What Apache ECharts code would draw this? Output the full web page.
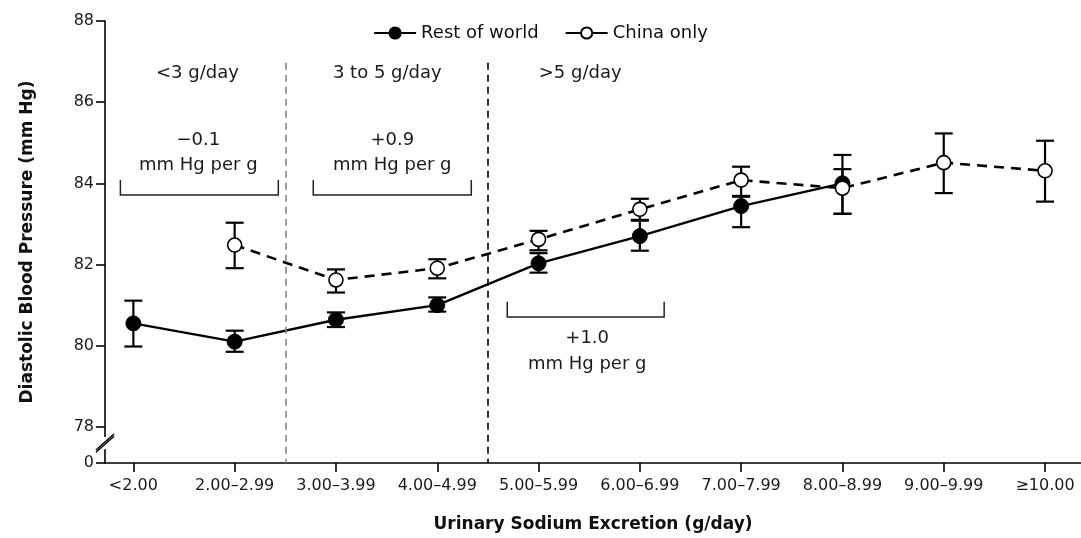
<!DOCTYPE html>
<html>
<head>
<meta charset="utf-8">
<script src="https://cdn.jsdelivr.net/npm/echarts@6/dist/echarts.min.js"></script>
<style>
html,body{margin:0;padding:0;background:#fff;}
#chart{width:1081px;height:538px;}
</style>
</head>
<body>
<div id="chart"></div>
<script>
// ---- data ----
const categories = ['<2.00','2.00\u20132.99','3.00\u20133.99','4.00\u20134.99','5.00\u20135.99','6.00\u20136.99','7.00\u20137.99','8.00\u20138.99','9.00\u20139.99','\u226510.00'];
const restMean  = [80.55, 80.10, 80.64, 81.00, 82.03, 82.70, 83.44, 84.00, null, null];
const restLow   = [79.98, 79.85, 80.46, 80.84, 81.80, 82.34, 82.92, 83.25, null, null];
const restHigh  = [81.11, 80.37, 80.82, 81.19, 82.28, 83.10, 83.69, 84.70, null, null];
const chinaMean = [null, 82.48, 81.62, 81.91, 82.62, 83.36, 84.08, 83.88, 84.51, 84.31];
const chinaLow  = [null, 81.91, 81.31, 81.66, 82.35, 83.08, 83.67, 83.25, 83.76, 83.55];
const chinaHigh = [null, 83.03, 81.88, 82.13, 82.83, 83.62, 84.41, 84.35, 85.23, 85.05];
const yTicks = [78, 80, 82, 84, 86, 88];
const yBreakLabel = '0';
const seriesNames = ['Rest of world', 'China only'];

// ---- annotation layout (data units) ----
const Y_MIN = 77.11, Y_MAX = 88;
const X_MIN = -0.28, X_MAX = 9.355;
const brackets = [
  [-0.128, 1.431, 83.71, 84.08],
  [1.776, 3.336, 83.71, 84.08],
  [3.691, 5.240, 80.71, 81.08]
];
const notes = [
  [0.632, 86.72, '<3 g/day'],
  [2.507, 86.72, '3 to 5 g/day'],
  [4.411, 86.72, '>5 g/day'],
  [0.641, 85.07, '\u22120.1'],
  [0.641, 84.45, 'mm Hg per g'],
  [2.556, 85.07, '+0.9'],
  [2.556, 84.45, 'mm Hg per g'],
  [4.48, 80.19, '+1.0'],
  [4.48, 79.55, 'mm Hg per g']
];

const FONT = 'DejaVu Sans';
const toPairs = (arr) => arr.map((v, i) => v == null ? null : [i, v]).filter(Boolean);
const toErr = (lo, hi) => lo.map((v, i) => v == null ? null : [i, v, hi[i]]).filter(Boolean);

function renderErr(params, api) {
  const x = api.value(0);
  const p1 = api.coord([x, api.value(1)]);
  const p2 = api.coord([x, api.value(2)]);
  const w = 9;
  const st = { stroke: '#000', lineWidth: 2.2 };
  return { type: 'group', children: [
    { type: 'line', shape: { x1: p1[0], y1: p1[1], x2: p2[0], y2: p2[1] }, style: st },
    { type: 'line', shape: { x1: p1[0]-w, y1: p1[1], x2: p1[0]+w, y2: p1[1] }, style: st },
    { type: 'line', shape: { x1: p2[0]-w, y1: p2[1], x2: p2[0]+w, y2: p2[1] }, style: st }
  ]};
}

const chart = echarts.init(document.getElementById('chart'), null, { renderer: 'canvas' });
const option = {
  animation: false,
  textStyle: { fontFamily: FONT },
  grid: { left: 105, right: 0, top: 21, bottom: 75 },
  legend: {
    top: 19, left: 'center',
    itemWidth: 42, itemHeight: 14, itemGap: 26,
    textStyle: { fontFamily: FONT, fontSize: 18, color: '#111' },
    data: [
      { name: seriesNames[0] },
      { name: seriesNames[1], lineStyle: { type: 'solid' } }
    ]
  },
  xAxis: {
    type: 'value', min: X_MIN, max: X_MAX,
    splitLine: { show: false },
    axisLine: { onZero: false, lineStyle: { color: '#000', width: 1.6 } },
    axisTick: { customValues: categories.map((c, i) => i), length: 9, lineStyle: { color: '#000', width: 1.6 } },
    axisLabel: { customValues: categories.map((c, i) => i), formatter: (v) => categories[Math.round(v)], fontFamily: FONT, fontSize: 16, color: '#1a1a1a', margin: 15 },
    name: 'Urinary Sodium Excretion (g/day)', nameLocation: 'middle', nameGap: 53,
    nameTextStyle: { fontFamily: FONT, fontSize: 17, fontWeight: 'bold', color: '#111' }
  },
  yAxis: {
    type: 'value', min: Y_MIN, max: Y_MAX,
    splitLine: { show: false },
    axisLine: { show: true, onZero: false, lineStyle: { color: '#000', width: 1.6 } },
    axisTick: { show: true, customValues: [Y_MIN].concat(yTicks), length: 9, lineStyle: { color: '#000', width: 1.6 } },
    axisLabel: { customValues: [Y_MIN].concat(yTicks), formatter: (v) => v < 77.5 ? yBreakLabel : String(Math.round(v)), fontFamily: FONT, fontSize: 16, color: '#1a1a1a', margin: 11 },
    name: 'Diastolic Blood Pressure (mm Hg)', nameLocation: 'middle', nameGap: 69,
    nameTextStyle: { fontFamily: FONT, fontSize: 17, fontWeight: 'bold', color: '#111' }
  },
  series: [
    {
      type: 'custom', name: 'errRest', z: 1, silent: true,
      renderItem: renderErr, data: toErr(restLow, restHigh),
      encode: { x: 0, y: [1, 2] }
    },
    {
      type: 'custom', name: 'errChina', z: 1, silent: true,
      renderItem: renderErr, data: toErr(chinaLow, chinaHigh),
      encode: { x: 0, y: [1, 2] }
    },
    {
      type: 'line', name: seriesNames[0], z: 3,
      data: toPairs(restMean),
      symbol: 'circle', symbolSize: 15,
      lineStyle: { color: '#000', width: 2.4 },
      itemStyle: { color: '#000', borderColor: '#000', borderWidth: 1 },
      markLine: {
        silent: true, symbol: 'none', label: { show: false },
        data: [
          [{ coord: [1.5, 86.97], lineStyle: { color: '#888', type: [7, 5], width: 1.6 } }, { coord: [1.5, Y_MIN] }],
          [{ coord: [3.5, 86.97], lineStyle: { color: '#000', type: [7, 5], width: 1.6 } }, { coord: [3.5, Y_MIN] }]
        ]
      }
    },
    {
      type: 'line', name: seriesNames[1], z: 4,
      data: toPairs(chinaMean),
      symbol: 'circle', symbolSize: 14,
      lineStyle: { color: '#000', width: 2.6, type: [10, 7] },
      itemStyle: { color: '#fff', borderColor: '#000', borderWidth: 1.6 }
    },
    {
      type: 'custom', name: 'brackets', silent: true, z: 1,
      data: brackets,
      encode: { x: [0, 1], y: [2, 3] },
      renderItem: function (params, api) {
        const a = api.coord([api.value(0), api.value(3)]);
        const b = api.coord([api.value(0), api.value(2)]);
        const c = api.coord([api.value(1), api.value(2)]);
        const d = api.coord([api.value(1), api.value(3)]);
        return { type: 'polyline', shape: { points: [a, b, c, d] }, style: { stroke: '#222', lineWidth: 1.5, fill: null } };
      }
    },
    {
      type: 'custom', name: 'notes', silent: true, z: 1,
      data: notes,
      encode: { x: 0, y: 1 },
      renderItem: function (params, api) {
        const p = api.coord([api.value(0), api.value(1)]);
        return { type: 'text', x: p[0], y: p[1], style: { text: notes[params.dataIndex][2], textAlign: 'center', textVerticalAlign: 'middle', fill: '#1a1a1a', fontFamily: FONT, fontSize: 18 } };
      }
    }
  ]
};
chart.setOption(option);

// axis break marks
const pTop = chart.convertToPixel({ gridIndex: 0 }, [X_MIN, 77.75]);
const pBot = chart.convertToPixel({ gridIndex: 0 }, [X_MIN, 77.45]);
const ax = pTop[0];
chart.setOption({
  graphic: [
    { type: 'rect', shape: { x: ax - 3, y: pTop[1], width: 6, height: pBot[1] - pTop[1] }, style: { fill: '#fff' }, z: 100 },
    { type: 'line', shape: { x1: ax - 9, y1: pTop[1] + 13, x2: ax + 9, y2: pTop[1] - 3 }, style: { stroke: '#000', lineWidth: 1.5 }, z: 101 },
    { type: 'line', shape: { x1: ax - 9, y1: pBot[1] + 3, x2: ax + 9, y2: pBot[1] - 13 }, style: { stroke: '#000', lineWidth: 1.5 }, z: 101 }
  ]
});
</script>
</body>
</html>
